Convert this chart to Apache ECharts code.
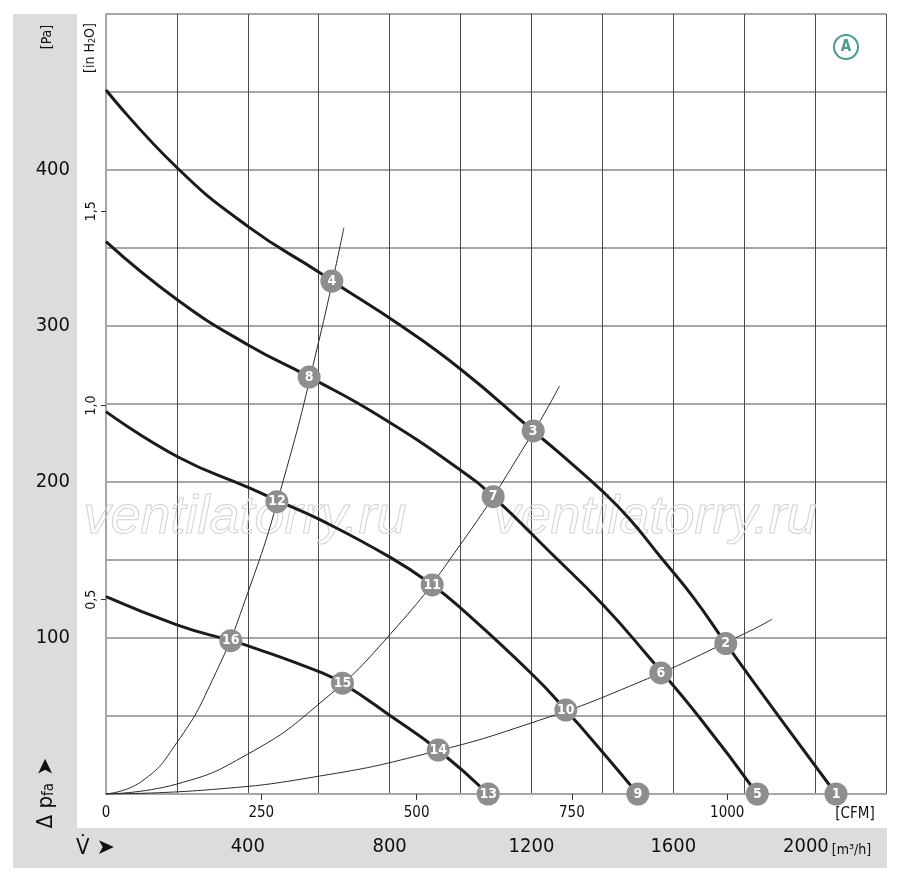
<!DOCTYPE html>
<html>
<head>
<meta charset="utf-8">
<script src="https://cdn.jsdelivr.net/npm/echarts@6/dist/echarts.min.js"></script>
<style>
html,body{margin:0;padding:0;background:#fff;}
#chart{width:900px;height:883px;}
</style>
</head>
<body>
<div id="chart"></div>
<script>
// ---- data (flow in m³/h, pressure in Pa) ----
const fan1 = [[0,451.3],[202,401.1],[401,363.7],[602,334.3],[637,328.8],[829,300.6],[1003,271.8],[1205,232.7],[1280,218.3],[1403,193.5],[1478,175.9],[1563,152.2],[1657,125.9],[1748,96.6],[1901,48.7],[2059,0]];
const fan2 = [[0,354.1],[202,316.7],[401,287.8],[573,267.4],[773,242.0],[1003,207.1],[1092,190.6],[1252,155.1],[1403,121.0],[1534,87.0],[1675,48.7],[1837,0]];
const fan3 = [[0,245.1],[202,216.2],[401,196.5],[482,188.2],[602,176.0],[803,151.5],[920,134.0],[1003,118.6],[1204,76.3],[1297,53.8],[1402,26.5],[1500,0]];
const fan4 = [[0,126.5],[202,108.3],[352,98.3],[401,95.0],[601,78.4],[667,71.0],[803,50.0],[937,28.2],[1078,0]];
const sysA = [[0,0],[100,8],[200,33],[300,73],[400,129],[500,201],[600,290],[671,363]];
const sysB = [[0,0],[200,6.4],[400,25.6],[600,57.6],[800,102],[1000,160],[1200,230],[1279,261.5]];
const sysC = [[0,0],[300,2.9],[600,11.4],[900,25.7],[1200,45.6],[1500,71.3],[1800,102.7],[1879,112]];
const markers = [[2059,0,'1'],[1748,96.4,'2'],[1205,232.7,'3'],[637,328.8,'4'],[1837,0,'5'],[1565,77.6,'6'],[1092,190.6,'7'],[573,267.3,'8'],[1500,0,'9'],[1297,53.8,'10'],[920,134,'11'],[482,187.4,'12'],[1078,0,'13'],[937,28.2,'14'],[667,71,'15'],[352,98.3,'16']];
// ---- tick labels ----
const paTicks = [100,200,300,400];
const m3hTicks = [400,800,1200,1600,2000];
const cfmTicks = [0,250,500,750,1000];
const cfmTickMarks = [250,500,750,1000];
const inh2oTicks = [0.5,1.0,1.5];

const FONT = "'Liberation Sans Narrow','DejaVu Sans Condensed',sans-serif";
const chart = echarts.init(document.getElementById('chart'), null, {renderer:'canvas'});

function fanSeries(d){
  return {type:'line',data:d,showSymbol:false,smooth:0.5,xAxisIndex:0,yAxisIndex:0,z:3,
    lineStyle:{color:'#1b1b1b',width:3},silent:true};
}
function sysSeries(d){
  return {type:'line',data:d,showSymbol:false,smooth:0.5,xAxisIndex:0,yAxisIndex:0,z:2,
    lineStyle:{color:'#2a2a2a',width:1},silent:true};
}

const option = {
  animation:false,
  backgroundColor:'#fff',
  grid:{left:106,top:14,width:780,height:780},
  xAxis:[
    {type:'value',min:0,max:2200,interval:200,position:'bottom',
     axisLine:{show:true,lineStyle:{color:'#a6a6a6',width:2}},
     axisTick:{show:false},
     splitLine:{show:true,lineStyle:{color:'#4a4a4a',width:1}},
     axisLabel:{margin:43,fontSize:20,color:'#111',fontFamily:FONT,customValues:m3hTicks,
       formatter:function(v){
         if(v===2000) return '{p| }{v|'+v+'}{u|[m³/h]}';
         return String(v);
       },
       rich:{p:{width:24,fontSize:20},v:{fontSize:20,fontFamily:FONT,color:'#111'},
             u:{fontSize:14,fontFamily:FONT,color:'#111',padding:[6,0,0,3]}}}
    },
    {type:'value',min:0,max:1255.6,interval:250,position:'bottom',
     axisLine:{show:false},
     axisTick:{show:true,length:6,customValues:cfmTickMarks,lineStyle:{color:'#333',width:1}},
     splitLine:{show:false},
     axisLabel:{margin:12,fontSize:15,color:'#111',fontFamily:FONT,customValues:cfmTicks,
       formatter:function(v){return String(v);}}
    }
  ],
  yAxis:[
    {type:'value',min:0,max:500,interval:50,position:'left',
     axisLine:{show:true,lineStyle:{color:'#a6a6a6',width:2}},
     axisTick:{show:false},
     splitLine:{show:true,lineStyle:{color:'#a6a6a6',width:2}},
     axisLabel:{margin:36,fontSize:20,color:'#111',fontFamily:FONT,customValues:paTicks,
       formatter:function(v){return String(v);}}
    },
    {type:'value',min:0,max:500/249.089,interval:0.5,position:'left',
     axisLine:{show:false},
     axisTick:{show:true,length:5,customValues:inh2oTicks,lineStyle:{color:'#333',width:1}},
     splitLine:{show:false},
     axisLabel:{margin:8,rotate:90,fontSize:14,color:'#111',fontFamily:FONT,customValues:inh2oTicks,
       formatter:function(v){return Number(v).toFixed(1).replace('.',',');}}
    }
  ],
  graphic:[
    {type:'rect',z:-10,silent:true,shape:{x:13,y:14,width:64,height:854},style:{fill:'#dcdcde'}},
    {type:'rect',z:-10,silent:true,shape:{x:13,y:828,width:874,height:40},style:{fill:'#dcdcde'}},
    {type:'text',z:1,silent:true,x:245,y:518,style:{text:'ventilatorry.ru',align:'center',verticalAlign:'middle',
      font:"italic 54px 'Liberation Sans', sans-serif",fill:'rgba(0,0,0,0)',stroke:'#d2d2d2',lineWidth:1}},
    {type:'text',z:1,silent:true,x:655,y:518,style:{text:'ventilatorry.ru',align:'center',verticalAlign:'middle',
      font:"italic 54px 'Liberation Sans', sans-serif",fill:'rgba(0,0,0,0)',stroke:'#d2d2d2',lineWidth:1}},
    {type:'circle',z:10,silent:true,shape:{cx:846,cy:47,r:12},style:{fill:'#fff',stroke:'#4a9b92',lineWidth:2}},
    {type:'text',z:11,silent:true,x:846,y:47,style:{text:'A',align:'center',verticalAlign:'middle',
      font:"bold 15px "+FONT,fill:'#4a9b92'}},
    {type:'text',z:5,silent:true,x:47,y:37,rotation:Math.PI/2,style:{text:'[Pa]',align:'center',verticalAlign:'middle',
      font:"14px "+FONT,fill:'#111'}},
    {type:'text',z:5,silent:true,x:90,y:48,rotation:Math.PI/2,style:{text:'{a|[in H}{s|2}{a|O]}',align:'center',verticalAlign:'middle',
      rich:{a:{font:"14px "+FONT,fill:'#111'},s:{font:"9px "+FONT,fill:'#111',verticalAlign:'bottom'}}}},
    {type:'text',z:5,silent:true,x:46,y:793,rotation:Math.PI/2,style:{text:'{a|Δ p}{s|fa}{b| ➤}',align:'center',verticalAlign:'middle',
      rich:{a:{font:"22px "+FONT,fill:'#111'},s:{font:"15px "+FONT,fill:'#111',verticalAlign:'bottom'},b:{font:"22px 'DejaVu Sans', sans-serif",fill:'#111'}}}},
    {type:'text',z:5,silent:true,x:76,y:848,style:{text:'{a|V\u0307}{b| ➤}',align:'left',verticalAlign:'middle',
      rich:{a:{font:"22px "+FONT,fill:'#111'},b:{font:"22px 'DejaVu Sans', sans-serif",fill:'#111'}}}},
    {type:'text',z:5,silent:true,x:855,y:814,style:{text:'[CFM]',align:'center',verticalAlign:'middle',
      font:"15px "+FONT,fill:'#111'}}
  ],
  series:[
    sysSeries(sysA), sysSeries(sysB), sysSeries(sysC),
    fanSeries(fan1), fanSeries(fan2), fanSeries(fan3), fanSeries(fan4),
    {type:'scatter',data:markers,xAxisIndex:0,yAxisIndex:0,symbolSize:23,z:6,clip:false,silent:true,
     itemStyle:{color:'#8e8e8e',opacity:1},
     label:{show:true,position:'inside',formatter:function(p){return p.value[2];},
       color:'#fff',fontWeight:'bold',fontSize:14,fontFamily:FONT}}
  ]
};
chart.setOption(option);
</script>
</body>
</html>
